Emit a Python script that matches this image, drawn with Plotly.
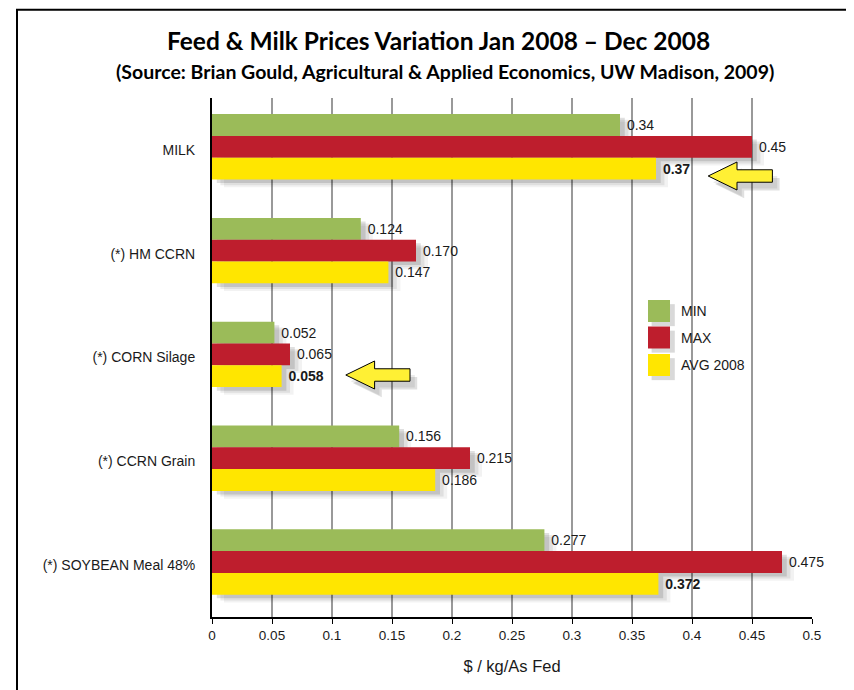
import plotly.graph_objects as go

categories = ["MILK", "(*) HM CCRN", "(*) CORN Silage", "(*) CCRN Grain", "(*) SOYBEAN Meal 48%"]
min_vals = [0.34, 0.124, 0.052, 0.156, 0.277]
max_vals = [0.45, 0.170, 0.065, 0.215, 0.475]
avg_vals = [0.37, 0.147, 0.058, 0.186, 0.372]
min_labels = ["0.34", "0.124", "0.052", "0.156", "0.277"]
max_labels = ["0.45", "0.170", "0.065", "0.215", "0.475"]
avg_labels = ["<b>0.37</b>", "0.147", "<b>0.058</b>", "0.186", "<b>0.372</b>"]
series_names = ["MIN", "MAX", "AVG 2008"]
x_ticks = [0, 0.05, 0.1, 0.15, 0.2, 0.25, 0.3, 0.35, 0.4, 0.45, 0.5]
x_tick_text = ["0", "0.05", "0.1", "0.15", "0.2", "0.25", "0.3", "0.35", "0.4", "0.45", "0.5"]

colors = ["#9BBB59", "#BE1E2D", "#FFE600"]
offsets = [-0.345, -0.135, 0.075]
W = 0.21
NB = "\u00a0"

fig = go.Figure()
series = [min_vals, max_vals, avg_vals]
labels = [min_labels, max_labels, avg_labels]

# soft drop shadows
for vals, off in zip(series, offsets):
    for (dx, dy, a) in [(0.010, 0.075, 0.05), (0.007, 0.055, 0.08), (0.004, 0.035, 0.12)]:
        fig.add_trace(go.Bar(
            y=categories, x=vals, orientation="h", base=dx, offset=off + dy, width=W,
            marker=dict(color=f"rgba(0,0,0,{a})", line=dict(width=0)),
            showlegend=False, hoverinfo="skip"))

for name, vals, lab, col, off in zip(series_names, series, labels, colors, offsets):
    fig.add_trace(go.Bar(
        y=categories, x=vals, orientation="h", name=name, offset=off, width=W,
        marker=dict(color=col, line=dict(width=0)),
        text=[NB + t for t in lab], textposition="outside", cliponaxis=False,
        constraintext="none",
        textfont=dict(family="Liberation Sans, Arial", size=14, color="#1a1a1a"),
        showlegend=False))

shapes = []
# outer frame
shapes.append(dict(type="rect", xref="paper", yref="paper", x0=-0.325, x1=1.062, y0=-0.2, y1=1.17,
                   line=dict(color="black", width=2), fillcolor="rgba(0,0,0,0)", layer="above"))

def arrow(x_tip, y_c):
    L = 0.0535
    hl = 0.024
    hh = 0.027
    sh = 0.012
    x_hb = x_tip + hl
    x_end = x_tip + L
    return (f"M {x_tip},{y_c} L {x_hb},{y_c+hh} L {x_hb},{y_c+sh} L {x_end},{y_c+sh} "
            f"L {x_end},{y_c-sh} L {x_hb},{y_c-sh} L {x_hb},{y_c-hh} Z")

def add_arrow(x_tip, y_px):
    y_c = (617 - y_px) / 519
    for i, a in enumerate([0.08, 0.12]):
        sp = arrow(x_tip + 0.004 + 0.002 * i, y_c - 0.012 - 0.004 * i)
        shapes.append(dict(type="path", xref="x", yref="paper", path=sp,
                           fillcolor=f"rgba(0,0,0,{a})", line=dict(width=0), layer="above"))
    shapes.append(dict(type="path", xref="x", yref="paper", path=arrow(x_tip, y_c),
                       fillcolor="#FFF034", line=dict(color="black", width=1), layer="above"))

add_arrow(0.4135, 176)
add_arrow(0.1115, 375)

annotations = []
# custom legend
leg_y = [311, 337.5, 365]
for name, col, yp in zip(series_names, colors, leg_y):
    yc = (617 - yp) / 519
    x0 = (648 - 212) / 600
    x1 = (670 - 212) / 600
    hh = 11 / 519
    shapes.append(dict(type="rect", xref="paper", yref="paper", x0=x0 + 0.006, x1=x1 + 0.008,
                       y0=yc - hh - 0.008, y1=yc + hh - 0.008, fillcolor="rgba(0,0,0,0.15)",
                       line=dict(width=0)))
    shapes.append(dict(type="rect", xref="paper", yref="paper", x0=x0, x1=x1,
                       y0=yc - hh, y1=yc + hh, fillcolor=col, line=dict(width=0)))
    annotations.append(dict(xref="paper", yref="paper", x=(679 - 212) / 600, y=yc, text=name,
                            showarrow=False, xanchor="left", yanchor="middle",
                            font=dict(family="Liberation Sans, Arial", size=14, color="#1a1a1a")))

annotations.append(dict(xref="paper", yref="paper", x=(438 - 212) / 600, y=(617 - 40) / 519,
                        text="<b>Feed & Milk Prices Variation Jan 2008 – Dec 2008</b>",
                        showarrow=False, xanchor="center", yanchor="middle",
                        font=dict(family="Lato", size=24.5, color="black")))
annotations.append(dict(xref="paper", yref="paper", x=(445 - 212) / 600, y=(617 - 72) / 519,
                        text="<b>(Source: Brian Gould, Agricultural & Applied Economics, UW Madison, 2009)</b>",
                        showarrow=False, xanchor="center", yanchor="middle",
                        font=dict(family="Lato", size=19.5, color="black")))

fig.update_layout(
    width=854, height=690,
    margin=dict(l=204, r=50, t=90, b=81),
    paper_bgcolor="white", plot_bgcolor="white",
    barmode="overlay",
    showlegend=False,
    shapes=shapes, annotations=annotations,
    xaxis=dict(range=[0, 0.5], tickvals=x_ticks, ticktext=x_tick_text,
               showgrid=True, gridcolor="#999999", gridwidth=2,
               showline=True, linecolor="black", linewidth=2,
               ticks="outside", ticklen=5, tickcolor="black", tickwidth=1,
               tickfont=dict(family="Liberation Sans, Arial", size=13.5, color="#1a1a1a"),
               title=dict(text="$ / kg/As Fed", standoff=18,
                          font=dict(family="Liberation Sans, Arial", size=16.5, color="#1a1a1a")),
               zeroline=False, fixedrange=True),
    yaxis=dict(categoryorder="array", categoryarray=categories, autorange="reversed",
               showline=True, linecolor="black", linewidth=2, showgrid=False,
               ticks="", ticklabelstandoff=12,
               tickfont=dict(family="Liberation Sans, Arial", size=14, color="#1a1a1a"),
               fixedrange=True),
)

fig.write_html("out.html")
